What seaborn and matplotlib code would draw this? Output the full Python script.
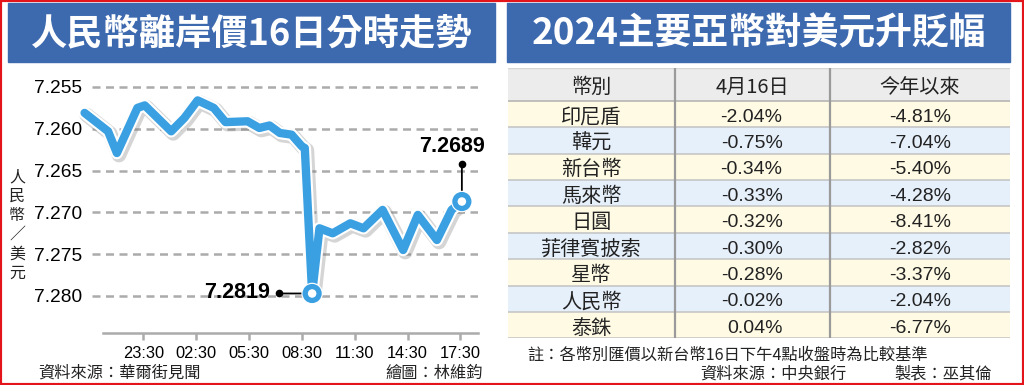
import numpy as np
import pandas as pd
import matplotlib
matplotlib.use("Agg")
import matplotlib.pyplot as plt
import matplotlib.patheffects as pe
from matplotlib import font_manager as fm
from matplotlib.transforms import ScaledTranslation
from matplotlib.patches import Rectangle
import seaborn as sns

# ---------------- data ----------------
times = ["20:10", "21:30", "22:00", "23:10", "23:35", "01:05", "01:50", "02:35",
         "03:30", "04:10", "05:25", "06:05", "06:40", "07:15", "07:55", "08:30",
         "08:40", "09:05", "09:30", "10:15", "11:15", "12:00", "13:05", "14:15",
         "15:05", "16:10", "17:00", "17:35"]
rates = [7.2581, 7.2603, 7.2629, 7.2575, 7.2572, 7.2603, 7.2587, 7.2566,
         7.2575, 7.2592, 7.2591, 7.2599, 7.2596, 7.2605, 7.2607, 7.2621,
         7.2623, 7.2797, 7.2719, 7.2725, 7.2713, 7.2719, 7.2697, 7.2745,
         7.2703, 7.2733, 7.2697, 7.2687]
low_label = "7.2819"
last_label = "7.2689"
x_ticklabels = ["23:30", "02:30", "05:30", "08:30", "11:30", "14:30", "17:30"]
y_ticks = [7.255, 7.260, 7.265, 7.270, 7.275, 7.280]
y_label = "人民幣／美元"

table_headers = ["幣別", "4月16日", "今年以來"]
currencies = ["印尼盾", "韓元", "新台幣", "馬來幣", "日圓", "菲律賓披索", "星幣", "人民幣", "泰銖"]
change_apr16 = [-2.04, -0.75, -0.34, -0.33, -0.32, -0.30, -0.28, -0.02, 0.04]
change_ytd = [-4.81, -7.04, -5.40, -4.28, -8.41, -2.82, -3.37, -2.04, -6.77]

title_left = "人民幣離岸價16日分時走勢"
title_right = "2024主要亞幣對美元升貶幅"
source_left = "資料來源：華爾街見聞"
credit_left = "繪圖：林維鈞"
note_right = "註：各幣別匯價以新台幣16日下午4點收盤時為比較基準"
source_right = "資料來源：中央銀行"
credit_right = "製表：巫其倫"

# ---------------- style ----------------
sns.set_theme(style="white")
CJK = ["Noto Sans CJK TC", "DejaVu Sans"]
plt.rcParams["font.family"] = CJK
names = {f.name for f in fm.fontManager.ttflist}
NARROW = "Liberation Sans Narrow" in names
NUM = "Liberation Sans Narrow" if NARROW else "Liberation Sans"

BLUE = "#3AA0E2"
BAR = "#3D69AF"
GRID = "#ABABAB"

W, H = 1024, 385
fig = plt.figure(figsize=(W / 100, H / 100), dpi=100)
fig.patch.set_facecolor("white")


def fx(px):
    return px / W


def fy(py):
    return 1 - py / H


def to_hours(s):
    h, m = map(int, s.split(":"))
    v = h + m / 60
    return v - 23.5 if v >= 19 else v + 0.5


df = pd.DataFrame({"t": [to_hours(s) for s in times], "rate": rates})

# ---------------- title bars ----------------
for (x0, x1, txt) in [(8, 495, title_left), (507, 1010, title_right)]:
    fig.add_artist(Rectangle((fx(x0), fy(62)), fx(x1 - x0), 59 / H,
                             transform=fig.transFigure, color=BAR, zorder=0))
tl = fig.text(fx(251.5), fy(34), title_left, color="white", fontsize=26,
              fontweight="black", ha="center", va="center")
tr = fig.text(fx(758.5), fy(34), title_right, color="white", fontsize=26,
              fontweight="black", ha="center", va="center")

# ---------------- line chart ----------------
ax = fig.add_axes([fx(92), fy(333), fx(478 - 92), (333 - 75) / H])
ax.set_facecolor("none")
px_per_unit = (296 - 87) / 0.025
ax.set_ylim(7.255 + (333 - 87) / px_per_unit, 7.255 - (87 - 75) / px_per_unit)
hr_px = 52.85 / 3
ax.set_xlim((92 - 143.3) / hr_px, (478 - 143.3) / hr_px)

sns.lineplot(data=df, x="t", y="rate", ax=ax, color=BLUE, lw=6, clip_on=False,
             solid_joinstyle="round", solid_capstyle="round", zorder=4,
             path_effects=[pe.SimpleLineShadow(offset=(1.5, -1.5), shadow_color="#777777",
                                               alpha=0.3, linewidth=10.5),
                           pe.Stroke(linewidth=9, foreground="white"),
                           pe.Normal()])

i_low = int(np.argmax(rates))
i_last = len(rates) - 1
pts = df.iloc[[i_low, i_last]]
ax.plot(pts["t"], pts["rate"], "o", ms=10, mfc="white", mec=BLUE, mew=3.8,
        clip_on=False, zorder=6,
        path_effects=[pe.Stroke(linewidth=5.5, foreground="white"), pe.Normal()])

# annotations
tlow, vlow = df["t"][i_low], df["rate"][i_low]
tend, vend = df["t"][i_last], df["rate"][i_last]
ann_fs = 17.5 if NARROW else 15.5
ax.annotate(low_label, xy=(tlow, vlow), xytext=(-42, 1), textcoords="offset pixels",
            ha="right", va="center", fontsize=ann_fs, fontweight="bold",
            family=NUM, color="black", zorder=7)
ax.annotate("", xy=(tlow, vlow), xytext=(-33, 0), textcoords="offset pixels",
            arrowprops=dict(arrowstyle="-", color="black", lw=1.3, shrinkA=0, shrinkB=6),
            zorder=5)
ax.plot([tlow], [vlow], "o", ms=4.5, color="black", clip_on=False, zorder=7,
        transform=ax.transData + ScaledTranslation(-33 / 100, 0, fig.dpi_scale_trans))
ax.annotate(last_label, xy=(tend, vend), xytext=(-10, 55), textcoords="offset pixels",
            ha="center", va="center", fontsize=ann_fs, fontweight="bold",
            family=NUM, color="black", zorder=7)
ax.annotate("", xy=(tend, vend), xytext=(0, 38), textcoords="offset pixels",
            arrowprops=dict(arrowstyle="-", color="black", lw=1.3, shrinkA=0, shrinkB=6),
            zorder=5)
ax.plot([tend], [vend], "o", ms=4.5, color="black", clip_on=False, zorder=7,
        transform=ax.transData + ScaledTranslation(0, 38 / 100, fig.dpi_scale_trans))

# axes styling
ax.set_yticks(y_ticks)
ax.set_yticklabels([f"{v:.3f}" for v in y_ticks], family=NUM,
                   fontsize=15 if NARROW else 13.8, color="black")
ax.set_xticks([3 * i for i in range(len(x_ticklabels))])
ax.set_xticklabels(x_ticklabels, family=NUM, fontsize=12.5 if NARROW else 11.8,
                   color="black")
ax.tick_params(axis="y", length=0, pad=7)
ax.tick_params(axis="x", length=5, width=1.8, color=GRID, pad=4, direction="out",
               bottom=True)
ax.yaxis.grid(True, color=GRID, lw=1.8, ls=(0, (3.2, 2.2)))
ax.xaxis.grid(False)
for s in ["top", "right", "left"]:
    ax.spines[s].set_visible(False)
ax.spines["bottom"].set_color(GRID)
ax.spines["bottom"].set_linewidth(1.8)
ax.spines["bottom"].set_bounds((103 - 143.3) / hr_px, (478 - 143.3) / hr_px)
ax.set_xlabel("")
ax.set_ylabel("")

# vertical y label
ys = np.linspace(177, 273, len(y_label))
for ch, yy in zip(y_label, ys):
    fig.text(fx(17), fy(yy), ch, fontsize=11.5, ha="center", va="center", color="#222222")

# footers left
fig.text(fx(38), fy(373), source_left, fontsize=11.7, ha="left", va="center", color="#222222")
fig.text(fx(483), fy(373), credit_left, fontsize=11.7, ha="right", va="center", color="#222222")

# ---------------- table ----------------
tax = fig.add_axes([fx(508), fy(338.3), fx(1010 - 508), (338.3 - 68) / H])
tax.set_xlim(508, 1010)
tax.set_ylim(338.3, 68)
tax.axis("off")

head_top, head_bot = 68, 101
row_h = (338.3 - head_bot) / len(currencies)
tax.add_patch(Rectangle((508, head_top), 502, head_bot - head_top, color="#ECECEC", zorder=0))
for i in range(len(currencies)):
    y0 = head_bot + i * row_h
    tax.add_patch(Rectangle((508, y0), 502, row_h,
                            color="#FEFAE3" if i % 2 == 0 else "#E6F0FB", zorder=0))
    tax.plot([508, 1010], [y0 + row_h, y0 + row_h], color="#C2C2C2", lw=1.1, zorder=1)
tax.plot([508, 1010], [head_bot, head_bot], color="#B5B5B5", lw=1.2, zorder=1)
tax.plot([508, 1010], [head_top + 0.5, head_top + 0.5], color="#D5D5D5", lw=1.0, zorder=1)
for xd in [675, 830]:
    tax.plot([xd, xd], [head_top, 338.3], color="#9A9A9A", lw=1.6, zorder=2)

col_c = [591.5, 752, 920]
col_r = [None, 782.5, 951.5]
hy = (head_top + head_bot) / 2 + 3
for c, h in zip(col_c, table_headers):
    tax.text(c, hy, h, fontsize=14.5, ha="center", va="center", color="#222222")
for i, (cur, a, b) in enumerate(zip(currencies, change_apr16, change_ytd)):
    yc = head_bot + (i + 0.5) * row_h + 3
    tax.text(col_c[0], yc, cur, fontsize=14.5, ha="center", va="center", color="#222222")
    tax.text(col_r[1], yc, f"{a:.2f}%", fontsize=14, ha="right", va="center",
             family="Liberation Sans", color="#222222")
    tax.text(col_r[2], yc, f"{b:.2f}%", fontsize=14, ha="right", va="center",
             family="Liberation Sans", color="#222222")

fig.text(fx(527), fy(355), note_right, fontsize=11.7, ha="left", va="center", color="#222222")
fig.text(fx(700), fy(374), source_right, fontsize=11.7, ha="left", va="center", color="#222222")
fig.text(fx(992), fy(374), credit_right, fontsize=11.7, ha="right", va="center", color="#222222")

# fit title widths
fig.canvas.draw()
r = fig.canvas.get_renderer()
for t, target in [(tl, 442), (tr, 455)]:
    bb = t.get_window_extent(r)
    t.set_fontsize(t.get_fontsize() * target / bb.width)

# red frame
fig.add_artist(Rectangle((0, 0), 1, 1, transform=fig.transFigure, fill=False,
                         ec="#E3151B", lw=3, clip_on=False, zorder=20))

fig.savefig("out.png", dpi=100, facecolor="white")
